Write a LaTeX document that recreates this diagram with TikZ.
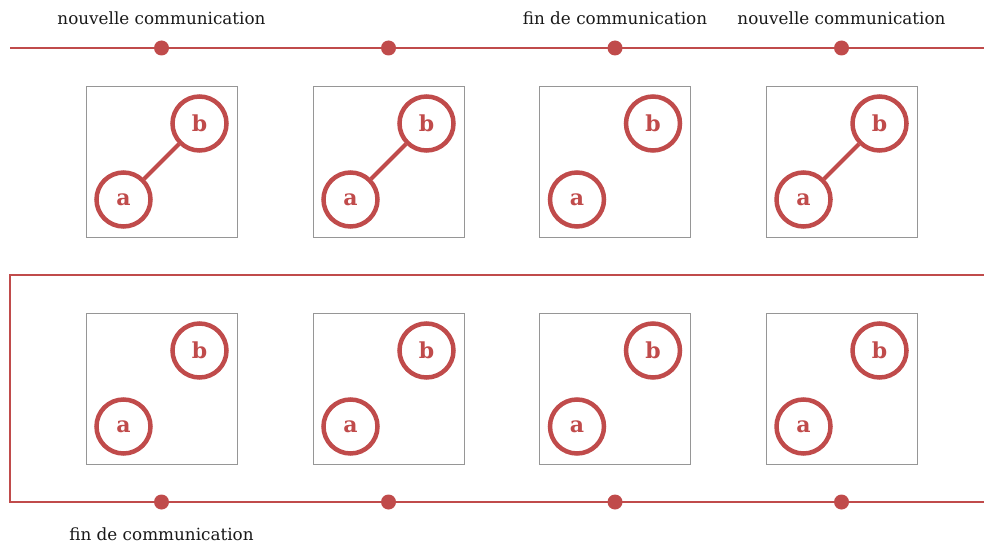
\documentclass[tikz,border=0pt]{standalone}
\usepackage{fontspec}
\usetikzlibrary{calc}
\setmainfont{DejaVu Serif}
\definecolor{myred}{RGB}{192,75,75}
\definecolor{boxgray}{RGB}{150,150,150}
\tikzset{
  lbl/.style={font=\fontsize{16.8}{19}\selectfont, text=black!90, inner sep=0pt},
  dot/.style={circle, fill=myred, minimum size=15pt, inner sep=0pt},
  frm/.style={draw=boxgray, line width=0.9pt, minimum size=151pt, inner sep=0pt},
  vert/.style={circle, draw=myred, line width=4.5pt, minimum size=54pt, inner sep=0pt, text=myred, font=\bfseries\fontsize{22}{24}\selectfont},
  edge/.style={draw=myred, line width=4pt},
  tl/.style={draw=myred, line width=1.2pt}
}
\begin{document}
\begin{tikzpicture}[x=1pt,y=-1pt]
\useasboundingbox (0,0) rectangle (984,548);
% top timeline
\coordinate (tl0) at (10,48);
\coordinate (tl1) at (984,48);
\draw[tl] (tl0) -- (tl1);
\foreach \i/\x in {1/161.5,2/388.5,3/615,4/841.5}{
  \node[dot] (td\i) at (\x,48) {};
  \node[dot] (bd\i) at (\x,502) {};
}
\node[lbl] (t1) at (161.5,18) {nouvelle communication};
\node[lbl] (t3) at (615,18) {fin de communication};
\node[lbl] (t4) at (841.5,18) {nouvelle communication};
\node[lbl] (b1) at (161.5,534) {fin de communication};
% bottom frame
\coordinate (f0) at (984,275);
\coordinate (f1) at (10,275);
\coordinate (f2) at (10,502);
\coordinate (f3) at (984,502);
\draw[tl] (f0) -- (f1) -- (f2) -- (f3);
% boxes
\foreach \r/\y in {1/161.5,2/388.5}{
  \foreach \c/\x in {1/161.5,2/388.5,3/615,4/841.5}{
    \node[frm] (box\r\c) at (\x,\y) {};
    \node[vert] (a\r\c) at ($(\x,\y)+(-38,38)$) {a};
    \node[vert] (b\r\c) at ($(\x,\y)+(38,-38)$) {b};
  }
}
\draw[edge] (a11) -- (b11);
\draw[edge] (a12) -- (b12);
\draw[edge] (a14) -- (b14);
\end{tikzpicture}
\end{document}
